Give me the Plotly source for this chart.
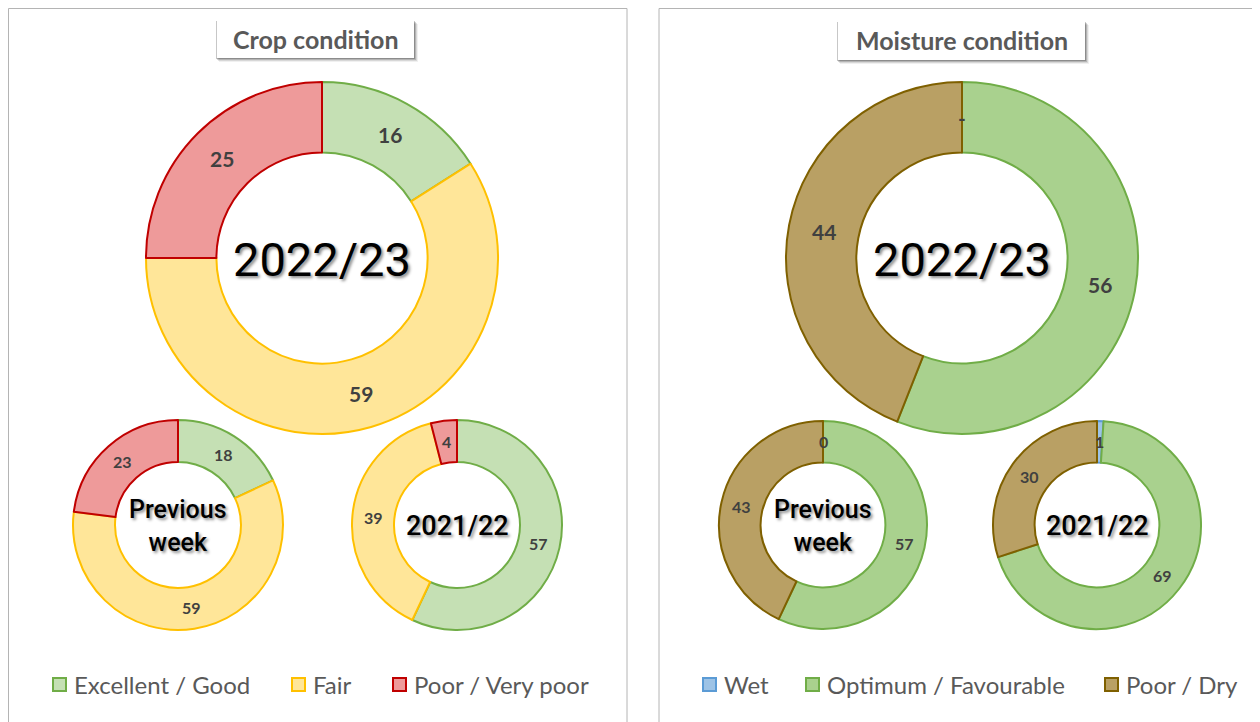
import math
import plotly.graph_objects as go

W, H = 1260, 722
OFF = 8  # the page places the figure 8px from the top-left corner

# ---------------- data ----------------
crop_labels = ["Excellent / Good", "Fair", "Poor / Very poor"]
crop_2022_23 = [16, 59, 25]
crop_prev_week = [18, 59, 23]
crop_2021_22 = [57, 39, 4]

moist_labels = ["Wet", "Optimum / Favourable", "Poor / Dry"]
moist_2022_23 = [0, 56, 44]
moist_prev_week = [0, 57, 43]
moist_2021_22 = [1, 69, 30]

center_titles = ["2022/23", "Previous<br>week", "2021/22"]
panel_titles = ["Crop condition", "Moisture condition"]

# ---------------- styles ----------------
crop_fill = ["#C5E0B4", "#FFE699", "#EE9A9A"]
crop_line = ["#70AD47", "#FFC000", "#C00000"]
moist_fill = ["#9DC3E6", "#A9D18E", "#B9A064"]
moist_line = ["#5B9BD5", "#70AD47", "#7F6000"]

LABEL_COLOR = "#404040"
TEXT_GRAY = "#595959"


def px(x):
    return (x - OFF) / W


def py(y):
    return 1 - (y - OFF) / H


fig = go.Figure()
annotations = []
shapes = []

donuts = [
    # values, labels, fill, line, cx, cy, r, center title, center size, weight, label size, zero mark
    (crop_2022_23, crop_labels, crop_fill, crop_line, 322, 258, 176, center_titles[0], 47, 400, 21, "-"),
    (crop_prev_week, crop_labels, crop_fill, crop_line, 178, 525, 105, center_titles[1], 25, 500, 16, "0"),
    (crop_2021_22, crop_labels, crop_fill, crop_line, 457, 525, 105, center_titles[2], 27, 500, 16, "0"),
    (moist_2022_23, moist_labels, moist_fill, moist_line, 962, 258, 176, center_titles[0], 47, 400, 21, "-"),
    (moist_prev_week, moist_labels, moist_fill, moist_line, 823, 525, 104, center_titles[1], 25, 500, 16, "0"),
    (moist_2021_22, moist_labels, moist_fill, moist_line, 1097, 525, 104, center_titles[2], 27, 500, 16, "0"),
]

HOLE = 0.6

for (vals, labs, fill, line, cx, cy, r, ctitle, csize, cweight, lsize, zmark) in donuts:
    fig.add_trace(go.Pie(
        values=vals,
        labels=labs,
        hole=HOLE,
        sort=False,
        direction="clockwise",
        rotation=0,
        textinfo="none",
        hoverinfo="label+value",
        marker=dict(colors=fill, line=dict(color=line, width=2)),
        domain=dict(x=[px(cx - r), px(cx + r)], y=[py(cy + r), py(cy - r)]),
        showlegend=False,
    ))
    # value labels at the middle of each ring segment
    total = sum(vals)
    rm = r * (1 + HOLE) / 2
    cum = 0
    for v in vals:
        mid = (cum + v / 2) / total * 2 * math.pi
        cum += v
        lx = cx + rm * math.sin(mid)
        ly = cy - rm * math.cos(mid)
        annotations.append(dict(
            x=px(lx), y=py(ly), xref="paper", yref="paper",
            text=str(v) if v > 0 else zmark, showarrow=False,
            font=dict(family="Lato", size=lsize, color=LABEL_COLOR, weight=700),
            xanchor="center", yanchor="middle",
        ))
    # center text
    annotations.append(dict(
        x=px(cx), y=py(cy + 1), xref="paper", yref="paper",
        text=ctitle, showarrow=False,
        font=dict(family="Roboto", size=csize, color="#000000", weight=cweight,
                  shadow="2px 2px 3px rgba(0,0,0,0.45)"),
        xanchor="center", yanchor="middle",
    ))

# panel borders (kept inside the drawable figure area)
shapes.append(dict(type="rect", xref="paper", yref="paper",
                   x0=px(OFF + 0.5), x1=px(627), y0=py(740), y1=py(OFF + 0.5),
                   line=dict(color="#B4B4B4", width=1), fillcolor="rgba(0,0,0,0)", layer="below"))
shapes.append(dict(type="rect", xref="paper", yref="paper",
                   x0=px(659), x1=px(1285), y0=py(740), y1=py(OFF + 0.5),
                   line=dict(color="#B4B4B4", width=1), fillcolor="rgba(0,0,0,0)", layer="below"))

# title boxes with soft shadow
for (x0, x1, y0, y1, title) in [(217, 414, 20, 58, panel_titles[0]), (838, 1085, 21, 60, panel_titles[1])]:
    for k, a in [(4, 0.06), (3, 0.10), (2, 0.16), (1, 0.22)]:
        shapes.append(dict(type="rect", xref="paper", yref="paper",
                           x0=px(x0 + k - 2), x1=px(x1 + k), y0=py(y1 + k), y1=py(y0 + k),
                           line=dict(width=0), fillcolor=f"rgba(0,0,0,{a})", layer="above"))
    shapes.append(dict(type="rect", xref="paper", yref="paper",
                       x0=px(x0), x1=px(x1), y0=py(y1), y1=py(y0),
                       line=dict(width=0), fillcolor="#FFFFFF", layer="above"))
    annotations.append(dict(
        x=px((x0 + x1) / 2), y=py((y0 + y1) / 2), xref="paper", yref="paper",
        text=title, showarrow=False,
        font=dict(family="Lato", size=25, color=TEXT_GRAY, weight=700),
        xanchor="center", yanchor="middle",
    ))

# legends (square swatch + label), one row under each panel
legend_rows = [
    (crop_labels, crop_fill, crop_line, [52, 291, 392]),
    (moist_labels, moist_fill, moist_line, [702, 805, 1104]),
]
LEG_Y = 684
for labs, fill, line, xs in legend_rows:
    for lab, fc, lc, x0 in zip(labs, fill, line, xs):
        shapes.append(dict(type="rect", xref="paper", yref="paper",
                           x0=px(x0 + 1), x1=px(x0 + 14), y0=py(LEG_Y + 7), y1=py(LEG_Y - 6),
                           line=dict(color=lc, width=2), fillcolor=fc, layer="above"))
        annotations.append(dict(
            x=px(x0 + 20), y=py(LEG_Y), xref="paper", yref="paper",
            text=lab, showarrow=False,
            font=dict(family="Lato", size=24, color=TEXT_GRAY),
            xanchor="left", yanchor="middle",
        ))

fig.update_layout(
    width=W, height=H,
    margin=dict(l=0, r=0, t=0, b=0),
    paper_bgcolor="#FFFFFF",
    plot_bgcolor="#FFFFFF",
    shapes=shapes,
    annotations=annotations,
    showlegend=False,
)

fig.write_html("out.html")
